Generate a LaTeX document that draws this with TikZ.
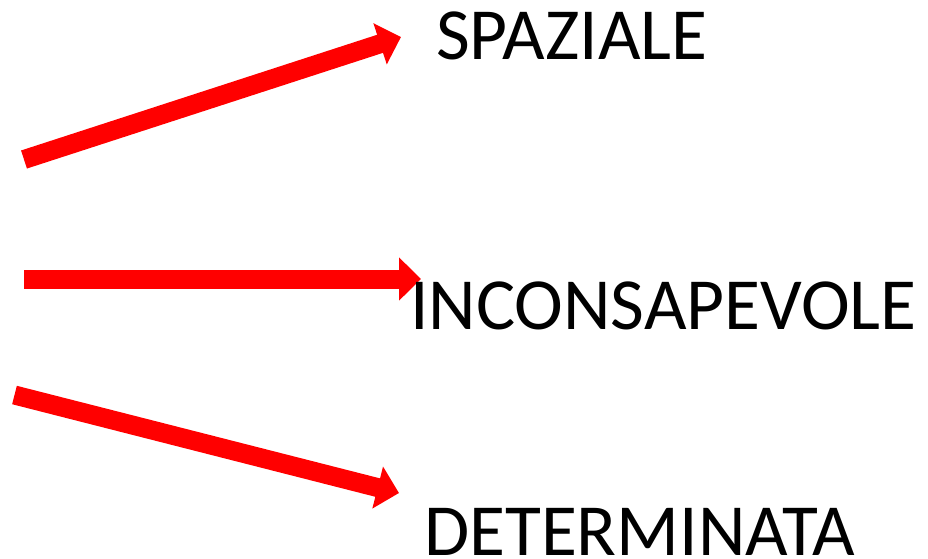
\documentclass[tikz,border=0pt]{standalone}
\usepackage{fontspec}
\setmainfont{Carlito}
\usetikzlibrary{arrows.meta}
\tikzset{
  bigarrow/.style={draw=red, line width=19pt, line cap=butt,
    -{Triangle[length=22pt, width=42pt]}},
  label/.style={anchor=base west, inner sep=0pt, font=\fontsize{73.5}{78}\selectfont, text=black}
}
\begin{document}
\begin{tikzpicture}[x=1pt, y=-1pt]
\useasboundingbox (0,0) rectangle (928,558);
\coordinate (t1) at (24,159.5);
\coordinate (h1) at (401,37);
\coordinate (t2) at (24,279);
\coordinate (h2) at (421,279);
\coordinate (t3) at (14.5,395);
\coordinate (h3) at (399,493);
\draw[bigarrow] (t1) -- (h1);
\draw[bigarrow] (t2) -- (h2);
\draw[bigarrow] (t3) -- (h3);
\node[label] (spaziale) at (436,59) {SPAZIALE};
\node[label] (inconsapevole) at (410,329) {INCONSAPEVOLE};
\node[label] (determinata) at (424,555) {DETERMINATA};
\end{tikzpicture}
\end{document}
